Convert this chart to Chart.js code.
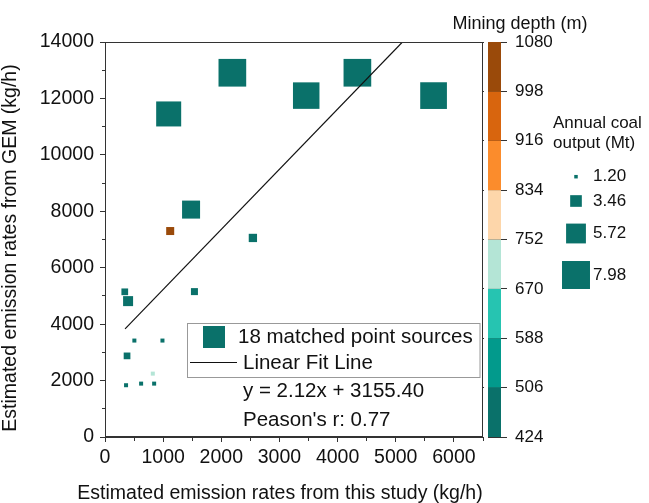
<!DOCTYPE html>
<html>
<head>
<meta charset="utf-8">
<script src="https://cdn.jsdelivr.net/npm/chart.js@4.4.0/dist/chart.umd.min.js"></script>
<style>
  html, body { margin: 0; padding: 0; background: #fff; }
  canvas { display: block; }
</style>
</head>
<body>
<canvas id="chart" width="649" height="503"></canvas>
<script>
// 18 matched point sources (kg/h)
const studyRates = [2190, 4340, 3460, 5650, 1095, 1480, 1121, 2543, 340, 397, 1538, 505, 988, 379, 822, 362, 621, 845];
const gemRates   = [12910, 12910, 12100, 12100, 11450, 8060, 7300, 7055, 5146, 4816, 5153, 3418, 3418, 2875, 2246, 1835, 1892, 1892];
// annual coal output (Mt) -> marker size
const coalOutput = [7.9, 7.9, 7.57, 7.63, 7.16, 5.22, 2.45, 2.53, 2.09, 3.0, 2.17, 1.34, 1.34, 2.09, 1.34, 1.34, 1.34, 1.34];
// mining depth (m) -> marker colour
const miningDepth = [460, 460, 460, 460, 460, 460, 1050, 460, 460, 460, 460, 460, 460, 460, 700, 460, 460, 460];

// linear fit line ends, y = 2.12x + 3155.40
const fitX = [345, 5115];
const fitY = [3830, 14000];

// colour bar
const depthTicks = [424, 506, 588, 670, 752, 834, 916, 998, 1080];
const depthColors = ['#0a716a', '#029a8c', '#26c4b1', '#b4e5d6', '#fdd6aa', '#fb8c2c', '#d8650e', '#9a4a0a'];

// size legend
const outputLegend = [1.20, 3.46, 5.72, 7.98];

const FONT = "'Liberation Sans', Arial, sans-serif";
const TEAL = depthColors[0];
const AXIS = '#333';

const sideFor = v => 3.5 + 3.61 * (v - 1.2);
const colorFor = d => {
    for (let i = 0; i < depthColors.length; i++) {
        if (d >= depthTicks[i] && d < depthTicks[i + 1]) return depthColors[i];
    }
    return depthColors[depthColors.length - 1];
};

// frame, colour bar and the text blocks
const decor = {
    id: 'decor',
    afterDraw(chart) {
        const { ctx, chartArea: a, scales } = chart;
        const y2 = scales.y2;
        ctx.save();

        // gap between frame and colour bar
        ctx.fillStyle = '#fff';
        ctx.fillRect(a.right + 1, a.top - 2, 4, a.bottom - a.top + 4);

        // colour bar
        const barX = a.right + 5;
        for (let i = 0; i < depthColors.length; i++) {
            const yTop = y2.getPixelForValue(depthTicks[i + 1]);
            const yBot = y2.getPixelForValue(depthTicks[i]);
            ctx.fillStyle = depthColors[i];
            ctx.fillRect(barX, yTop, 13, yBot - yTop);
        }

        // plot frame
        ctx.strokeStyle = AXIS;
        ctx.lineWidth = 1;
        ctx.strokeRect(Math.round(a.left) + 0.5, Math.round(a.top) + 0.5,
            Math.round(a.right - a.left) - 1, Math.round(a.bottom - a.top) - 1);

        ctx.fillStyle = '#111';
        ctx.textBaseline = 'alphabetic';

        // axis titles
        ctx.font = '19.5px ' + FONT;
        ctx.textAlign = 'center';
        ctx.fillText('Estimated emission rates from this study (kg/h)', 280, 499);
        ctx.save();
        ctx.translate(15.5, 248);
        ctx.rotate(-Math.PI / 2);
        ctx.fillText('Estimated emission rates from GEM (kg/h)', 0, 0);
        ctx.restore();

        // colour bar title
        ctx.font = '18px ' + FONT;
        ctx.fillText('Mining depth (m)', 520, 29);

        // size legend
        ctx.font = '17px ' + FONT;
        ctx.textAlign = 'left';
        ctx.fillText('Annual coal', 553, 128);
        ctx.fillText('output (Mt)', 553, 148);
        const legY = [176.7, 201, 233.5, 275];
        ctx.textBaseline = 'middle';
        outputLegend.forEach((v, i) => {
            const s = sideFor(v);
            ctx.fillStyle = TEAL;
            ctx.fillRect(576 - s / 2, legY[i] - s / 2, s, s);
            ctx.fillStyle = '#111';
            ctx.fillText(v.toFixed(2), 593, legY[i]);
        });

        // main legend
        ctx.strokeStyle = '#999';
        ctx.strokeRect(187.5, 323.5, 292.5, 54);
        ctx.fillStyle = TEAL;
        ctx.fillRect(203, 326, 22, 22);
        ctx.strokeStyle = '#111';
        ctx.beginPath();
        ctx.moveTo(190, 362.5);
        ctx.lineTo(237, 362.5);
        ctx.stroke();
        ctx.fillStyle = '#111';
        ctx.font = '20.5px ' + FONT;
        ctx.fillText('18 matched point sources', 238, 337);
        ctx.fillText('Linear Fit Line', 243, 363);
        ctx.fillText('y = 2.12x + 3155.40', 243, 391);
        ctx.fillText("Peason's r: 0.77", 243, 420);

        ctx.restore();
    }
};

// minor ticks: short stub next to the axis line
const minorDash = (axisIsLeft) => (c) => {
    if (!c.tick) return [];
    const major = axisIsLeft ? c.tick.value % 2000 === 0 : c.tick.value % 1000 === 0;
    if (major) return [];
    return axisIsLeft ? [0, 2, 3, 100] : [3, 100];
};

const Plot = {
    init() {
        Chart.defaults.font.family = FONT;
        Chart.defaults.color = '#111';

        new Chart(document.getElementById('chart'), {
            type: 'scatter',
            data: {
                datasets: [{
                    type: 'line',
                    label: 'Linear Fit Line',
                    data: fitX.map((x, i) => ({ x: x, y: fitY[i] })),
                    borderColor: '#111',
                    borderWidth: 1.2,
                    pointRadius: 0,
                    fill: false
                }, {
                    label: '18 matched point sources',
                    data: studyRates.map((x, i) => ({ x: x, y: gemRates[i] })),
                    pointStyle: 'rect',
                    pointRadius: c => sideFor(coalOutput[c.dataIndex]) / Math.SQRT2,
                    backgroundColor: c => colorFor(miningDepth[c.dataIndex]),
                    borderWidth: 0
                }]
            },
            options: {
                responsive: false,
                animation: false,
                devicePixelRatio: 1,
                events: [],
                layout: { padding: { top: 42, left: 0, right: 0, bottom: 0 } },
                plugins: {
                    legend: { display: false },
                    tooltip: { enabled: false }
                },
                scales: {
                    x: {
                        type: 'linear',
                        min: 0,
                        max: 6500,
                        afterFit: s => { s.height = 66; },
                        border: { color: AXIS, width: 1 },
                        grid: {
                            drawOnChartArea: false,
                            tickLength: 5,
                            color: AXIS,
                            tickBorderDash: minorDash(false)
                        },
                        ticks: {
                            stepSize: 500,
                            autoSkip: false,
                            maxRotation: 0,
                            padding: 4,
                            font: { size: 19.5 },
                            color: '#111',
                            callback: v => (v % 1000 === 0 && v <= 6000) ? String(v) : ''
                        }
                    },
                    y: {
                        type: 'linear',
                        min: 0,
                        max: 14000,
                        afterFit: s => { s.width = 105; },
                        border: { color: AXIS, width: 1 },
                        grid: {
                            drawOnChartArea: false,
                            tickLength: 5,
                            color: AXIS,
                            tickBorderDash: minorDash(true)
                        },
                        ticks: {
                            stepSize: 1000,
                            autoSkip: false,
                            padding: 6,
                            font: { size: 19.5 },
                            color: '#111',
                            callback: v => v % 2000 === 0 ? String(v) : ''
                        }
                    },
                    y2: {
                        type: 'linear',
                        position: 'right',
                        min: depthTicks[0],
                        max: depthTicks[depthTicks.length - 1],
                        afterFit: s => { s.width = 166; },
                        afterBuildTicks: s => { s.ticks = depthTicks.map(v => ({ value: v })); },
                        border: { display: false },
                        grid: {
                            drawOnChartArea: false,
                            tickLength: 24,
                            color: AXIS
                        },
                        ticks: {
                            autoSkip: false,
                            padding: 8,
                            font: { size: 17 },
                            color: '#111',
                            callback: v => String(v)
                        }
                    }
                }
            },
            plugins: [decor]
        });
    }
};

if (document.readyState === 'loading') {
    document.addEventListener('DOMContentLoaded', () => Plot.init());
} else {
    Plot.init();
}
</script>
</body>
</html>
